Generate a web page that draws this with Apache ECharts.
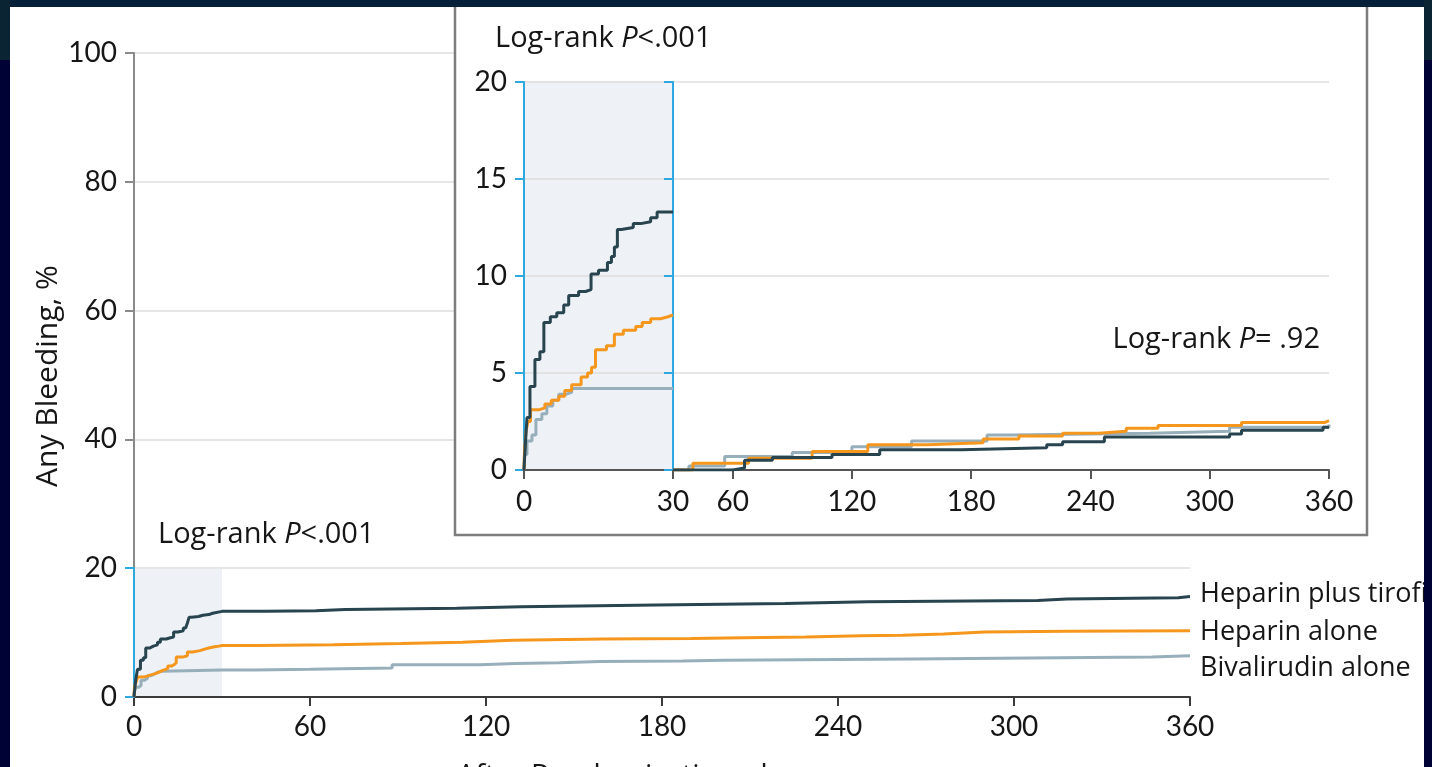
<!DOCTYPE html>
<html>
<head>
<meta charset="utf-8">
<script src="https://cdn.jsdelivr.net/npm/echarts@6/dist/echarts.min.js"></script>
<style>
html,body{margin:0;padding:0;background:#000235;}
#c{width:1432px;height:767px;}
</style>
</head>
<body>
<div id="c"></div>
<script>
// ---- Data (days after randomization, cumulative bleeding %) ----
var seriesNames = ['Heparin plus tirofiban', 'Heparin alone', 'Bivalirudin alone'];

// Days 0-30
var earlyDaysTirofiban = [0, 0.2, 0.6, 1.2, 2.2, 3.2, 4.0, 5.3, 6.6, 8.0, 9.0, 11.0, 12.4, 13.5, 15.0, 16.8, 17.6, 18.2, 18.8, 19.6, 22.0, 23.5, 25.5, 26.8, 30];
var earlyValsTirofiban = [0, 1.0, 2.7, 4.3, 5.7, 6.1, 7.6, 7.9, 8.1, 8.5, 9.0, 9.2, 9.3, 10.1, 10.3, 10.7, 11.0, 11.5, 12.4, 12.5, 12.7, 12.8, 13.0, 13.3, 13.3];
var earlyDaysHeparin = [0, 0.1, 0.4, 0.8, 1.3, 3.0, 4.2, 5.5, 7.0, 8.2, 9.6, 11.5, 12.8, 13.6, 14.4, 16.6, 18.2, 20.0, 22.5, 23.8, 25.5, 27.5, 29.0, 30];
var earlyValsHeparin = [0, 1.0, 2.0, 2.5, 3.1, 3.2, 3.4, 3.6, 3.8, 4.1, 4.4, 4.8, 5.0, 5.3, 6.2, 6.4, 7.0, 7.2, 7.4, 7.6, 7.8, 7.9, 8.0, 8.0];
var earlyDaysBival = [0, 0.1, 0.6, 1.6, 2.4, 3.6, 4.6, 5.8, 7.0, 8.4, 9.6, 30];
var earlyValsBival = [0, 0.8, 1.5, 1.8, 2.6, 2.9, 3.3, 3.6, 3.9, 4.0, 4.2, 4.2];

// Days 30-360 (cumulative from day 0, main panel)
var lateDaysTirofiban = [45, 62, 72, 110, 132, 178, 222, 250, 308, 318, 356, 360];
var lateValsTirofiban = [13.4, 13.6, 13.8, 14.0, 14.3, 14.5, 14.8, 15.0, 15.2, 15.4, 15.6, 15.6];
var lateDaysHeparin = [42, 68, 91, 112, 129, 160, 190, 208, 229, 248, 262, 276, 290, 318, 360];
var lateValsHeparin = [8.1, 8.3, 8.5, 8.8, 9.0, 9.1, 9.2, 9.3, 9.5, 9.6, 9.8, 10.1, 10.2, 10.3, 10.4];
var lateDaysBival = [41, 60, 88, 118, 130, 145, 159, 187, 201, 266, 295, 347, 360];
var lateValsBival = [4.3, 4.5, 5.0, 5.2, 5.3, 5.5, 5.6, 5.7, 5.9, 6.0, 6.2, 6.4, 6.4];

// Landmark analysis days 30-360 (reset at day 30, inset)
var lmDaysTirofiban = [30, 60, 66, 80, 110, 134, 175, 218, 226, 247, 310, 316, 357, 360];
var lmValsTirofiban = [0, 0.1, 0.5, 0.65, 0.8, 1.05, 1.15, 1.3, 1.45, 1.7, 1.85, 2.05, 2.2, 2.2];
var lmDaysHeparin = [30, 40, 68, 100, 128, 158, 186, 204, 226, 244, 258, 274, 316, 358, 360];
var lmValsHeparin = [0, 0.35, 0.6, 0.95, 1.3, 1.4, 1.6, 1.75, 1.9, 2.0, 2.15, 2.3, 2.45, 2.55, 2.55];
var lmDaysBival = [30, 38, 56, 90, 120, 150, 188, 200, 270, 310, 360];
var lmValsBival = [0, 0.2, 0.7, 0.9, 1.2, 1.5, 1.8, 1.9, 2.0, 2.2, 2.35];

var mainYTicks = [0, 20, 40, 60, 80, 100];
var mainXTicks = [0, 60, 120, 180, 240, 300, 360];
var insetYTicks = [0, 5, 10, 15, 20];
var insetRightXTicks = [60, 120, 180, 240, 300, 360];

// ---- Build ----
function zip(a, b) { return a.map(function (d, i) { return [d, b[i]]; }); }
var colors = ['#27444f', '#f5961d', '#97afba'];
var NUMFONT = 'Lato';
var TXTFONT = '"Open Sans"';
var TXTCOLOR = '#161616';
var BLUE = '#2ea8df';

var mainData = [
  zip(earlyDaysTirofiban.concat(lateDaysTirofiban), earlyValsTirofiban.concat(lateValsTirofiban)),
  zip(earlyDaysHeparin.concat(lateDaysHeparin), earlyValsHeparin.concat(lateValsHeparin)),
  zip(earlyDaysBival.concat(lateDaysBival), earlyValsBival.concat(lateValsBival))
];
var earlyData = [
  zip(earlyDaysTirofiban, earlyValsTirofiban),
  zip(earlyDaysHeparin, earlyValsHeparin),
  zip(earlyDaysBival, earlyValsBival)
];
var lmData = [
  zip(lmDaysTirofiban, lmValsTirofiban),
  zip(lmDaysHeparin, lmValsHeparin),
  zip(lmDaysBival, lmValsBival)
];

var series = [];
[2, 1, 0].forEach(function (i) {
  series.push({ type: 'line', name: seriesNames[i], xAxisIndex: 0, yAxisIndex: 0, data: mainData[i], step: 'end',
    showSymbol: false, lineStyle: { color: colors[i], width: 3 }, z: 6, animation: false, silent: true });
  series.push({ type: 'line', name: seriesNames[i], xAxisIndex: 1, yAxisIndex: 1, data: earlyData[i], step: 'end',
    showSymbol: false, lineStyle: { color: colors[i], width: 3 }, z: 6, animation: false, silent: true });
  series.push({ type: 'line', name: seriesNames[i], xAxisIndex: 2, yAxisIndex: 3, data: lmData[i], step: 'end',
    showSymbol: false, lineStyle: { color: colors[i], width: 3 }, z: 6, animation: false, silent: true });
});

var labelStyle = { fontFamily: NUMFONT, fontSize: 28, color: TXTCOLOR };

function richLogRank(text, x, y, align) {
  return { type: 'text', z: 8, x: x, y: y, silent: true,
    style: { text: text, font: '29px ' + TXTFONT, fill: TXTCOLOR, align: align, verticalAlign: 'middle',
      rich: { i: { fontStyle: 'italic', fontFamily: TXTFONT, fontSize: 29, fill: TXTCOLOR } } } };
}
function plainText(text, x, y) {
  return { type: 'text', z: 8, x: x, y: y, silent: true,
    style: { text: text, font: '27px ' + TXTFONT, fill: TXTCOLOR, verticalAlign: 'middle' } };
}

var option = {
  backgroundColor: '#ffffff',
  animation: false,
  grid: [
    { left: 134, top: 53, width: 1056, height: 644, z: 0 },
    { left: 524, top: 82, width: 149, height: 388, show: true, backgroundColor: '#eef1f5', borderWidth: 0, z: 3 },
    { left: 673, top: 82, width: 656, height: 388, z: 3 },
    { left: 134, top: 568, width: 88, height: 129, show: true, backgroundColor: '#eef1f5', borderWidth: 0, z: 0 }
  ],
  xAxis: [
    { type: 'value', gridIndex: 0, min: 0, max: 360, interval: 60, z: 1,
      axisLine: { lineStyle: { color: '#3a3a3a', width: 2 } },
      axisTick: { show: true, length: 9, lineStyle: { color: '#3a3a3a', width: 2 } },
      axisLabel: Object.assign({ margin: 16 }, labelStyle), splitLine: { show: false } },
    { type: 'value', gridIndex: 1, min: 0, max: 30, interval: 30, z: 4,
      axisLine: { lineStyle: { color: '#555', width: 2 } },
      axisTick: { show: true, length: 9, lineStyle: { color: '#555', width: 2 } },
      axisLabel: Object.assign({ margin: 18 }, labelStyle), splitLine: { show: false } },
    { type: 'value', gridIndex: 2, min: 30, max: 360, z: 4,
      axisLine: { lineStyle: { color: '#555', width: 2 } },
      axisTick: { show: true, length: 9, customValues: insetRightXTicks, lineStyle: { color: '#555', width: 2 } },
      axisLabel: Object.assign({ margin: 18, customValues: insetRightXTicks }, labelStyle), splitLine: { show: false } },
    { type: 'value', gridIndex: 3, min: 0, max: 30, show: false }
  ],
  yAxis: [
    { type: 'value', gridIndex: 0, min: 0, max: 100, interval: 20, z: 1,
      axisLine: { show: true, lineStyle: { color: '#8a8a8a', width: 2 } },
      axisTick: { show: true, length: 9, lineStyle: { color: '#8a8a8a', width: 2 } },
      axisLabel: Object.assign({ margin: 17 }, labelStyle),
      splitLine: { show: true, lineStyle: { color: '#e6e6e6', width: 2 } } },
    { type: 'value', gridIndex: 1, min: 0, max: 20, interval: 5, z: 4,
      axisLine: { show: true, lineStyle: { color: BLUE, width: 2 } },
      axisTick: { show: true, length: 9, lineStyle: { color: BLUE, width: 2 } },
      axisLabel: Object.assign({ margin: 17 }, labelStyle),
      splitLine: { show: true, lineStyle: { color: '#e2e2e2', width: 2 } } },
    { type: 'value', gridIndex: 1, min: 0, max: 20, interval: 5, position: 'right', z: 4,
      axisLine: { show: true, lineStyle: { color: BLUE, width: 2 } },
      axisTick: { show: true, inside: true, length: 9, lineStyle: { color: BLUE, width: 2 } },
      axisLabel: { show: false }, splitLine: { show: false } },
    { type: 'value', gridIndex: 2, min: 0, max: 20, interval: 5, z: 4,
      axisLine: { show: false }, axisTick: { show: false }, axisLabel: { show: false },
      splitLine: { show: true, lineStyle: { color: '#e6e6e6', width: 2 } } },
    { type: 'value', gridIndex: 3, min: 0, max: 20, interval: 20, z: 2,
      axisLine: { show: true, lineStyle: { color: BLUE, width: 2 } },
      axisTick: { show: true, length: 9, lineStyle: { color: BLUE, width: 2 } },
      axisLabel: { show: false }, splitLine: { show: false } }
  ],
  series: series,
  graphic: [
    // inset frame
    { type: 'rect', z: 2, silent: true, shape: { x: 455, y: -10, width: 912, height: 545 },
      style: { fill: '#ffffff', stroke: '#7d7d7d', lineWidth: 2.5 } },
    // texts
    richLogRank('Log-rank {i|P}<.001', 495, 39, 'left'),
    richLogRank('Log-rank {i|P}= .92', 1320, 340, 'right'),
    richLogRank('Log-rank {i|P}<.001', 158, 535, 'left'),
    plainText(seriesNames[0], 1200, 594),
    plainText(seriesNames[1], 1200, 632),
    plainText(seriesNames[2], 1200, 668),
    { type: 'text', z: 8, x: 48, y: 376, rotation: Math.PI / 2, silent: true,
      style: { text: 'Any Bleeding, %', font: '30px ' + TXTFONT, fill: TXTCOLOR, align: 'center', verticalAlign: 'middle' } },
    { type: 'text', z: 8, x: 457, y: 762, silent: true,
      style: { text: 'After Randomization, d', font: '29px ' + TXTFONT, fill: TXTCOLOR, verticalAlign: 'top' } },
    // dark outer frame
    { type: 'rect', z: 100, silent: true, shape: { x: 0, y: 0, width: 1432, height: 7 }, style: { fill: '#06203a' } },
    { type: 'rect', z: 100, silent: true, shape: { x: 0, y: 0, width: 10, height: 767 }, style: { fill: '#000235' } },
    { type: 'rect', z: 100, silent: true, shape: { x: 1424, y: 0, width: 8, height: 767 }, style: { fill: '#000235' } },
    { type: 'rect', z: 101, silent: true, shape: { x: 0, y: 0, width: 10, height: 60 }, style: { fill: '#0a2433' } },
    { type: 'rect', z: 101, silent: true, shape: { x: 1424, y: 0, width: 8, height: 60 }, style: { fill: '#0a2433' } }
  ]
};

var chart = echarts.init(document.getElementById('c'), null, { renderer: 'canvas' });
chart.setOption(option);
</script>
</body>
</html>
